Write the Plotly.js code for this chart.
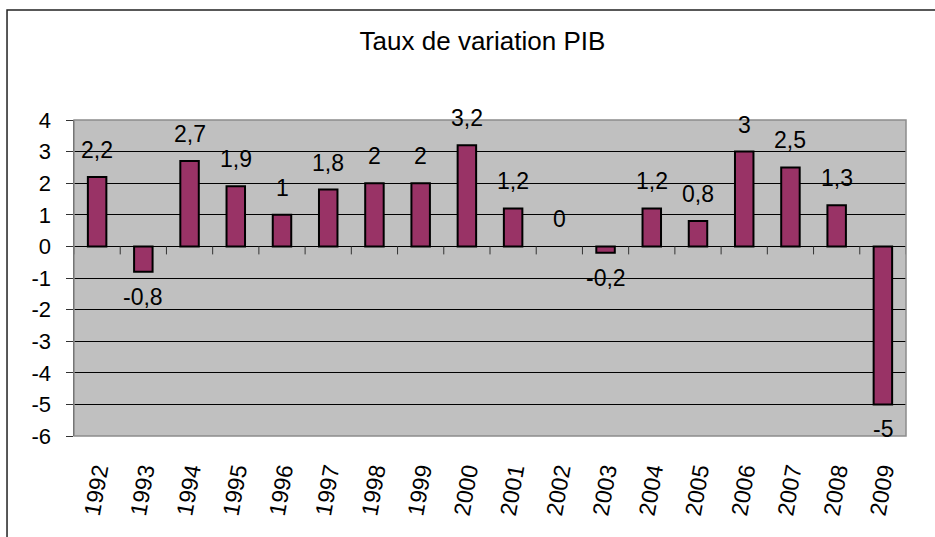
<!DOCTYPE html>
<html>
<head>
<meta charset="utf-8">
<script src="https://cdn.plot.ly/plotly-3.0.1.min.js"></script>
<style>
  html, body { margin: 0; padding: 0; background: #fff; }
  #chart { width: 935px; height: 537px; }
</style>
</head>
<body>
<div id="chart"></div>
<script>
// Taux de variation du PIB, par année
const years = ['1992', '1993', '1994', '1995', '1996', '1997', '1998', '1999', '2000',
               '2001', '2002', '2003', '2004', '2005', '2006', '2007', '2008', '2009'];
const growth = [2.2, -0.8, 2.7, 1.9, 1, 1.8, 2, 2, 3.2, 1.2, 0, -0.2, 1.2, 0.8, 3, 2.5, 1.3, -5];
const yTicks = [-6, -5, -4, -3, -2, -1, 0, 1, 2, 3, 4];

const fontFam = 'Liberation Sans, Arial, sans-serif';

// positions on a plain linear axis, years go in as tick text
const idx = years.map((_, i) => i);

// french decimal comma for the labels
function frNum(v) {
    return String(v).replace('.', ',');
}

const barTrace = {
    type: 'bar',
    x: idx,
    y: growth,
    width: 0.4,
    marker: {
        color: '#993366',
        // no outline on an empty (zero) bar
        line: { color: '#000', width: growth.map(v => v === 0 ? 0 : 2) }
    },
    hoverinfo: 'skip'
};

// value labels above / below each bar
const labels = idx.map(i => {
    const v = growth[i];
    return {
        x: i, y: v, xref: 'x', yref: 'y',
        text: frNum(v),
        showarrow: false,
        yanchor: v >= 0 ? 'bottom' : 'top',
        yshift: v >= 0 ? 12 : -10,
        font: { family: fontFam, size: 23, color: '#000' }
    };
});

// small tick marks on the zero line between categories
const zeroTicks = [];
for (let i = 0; i <= years.length; i++) {
    zeroTicks.push({
        type: 'line', xref: 'x', yref: 'y',
        x0: i - 0.5, x1: i - 0.5,
        ysizemode: 'pixel', yanchor: 0, y0: 0, y1: -8,
        line: { color: '#333', width: 1 }
    });
}

const shapes = zeroTicks.concat([
    // plot area border
    { type: 'rect', xref: 'paper', yref: 'paper', x0: 0, x1: 1, y0: 0, y1: 1,
      line: { color: '#8c8c8c', width: 1.5 }, layer: 'above' },
    // outer chart frame (partly off screen)
    { type: 'rect', xref: 'paper', yref: 'paper', x0: -0.0805, x1: 1.2, y0: -0.6, y1: 1.348,
      line: { color: '#222', width: 1.5 } }
]);

const layout = {
    width: 935,
    height: 537,
    margin: { l: 74, r: 29, t: 120, b: 101 },
    paper_bgcolor: '#fff',
    plot_bgcolor: '#c0c0c0',
    showlegend: false,
    hovermode: false,
    font: { family: fontFam, color: '#000' },
    title: {
        text: 'Taux de variation PIB',
        font: { family: fontFam, size: 26, color: '#000' },
        x: 0.516, xanchor: 'center',
        y: 0.924, yanchor: 'middle'
    },
    xaxis: {
        range: [-0.5, years.length - 0.5],
        tickvals: idx,
        ticktext: years,
        tickangle: -80,
        ticks: '',
        ticklabelstandoff: 16,
        showgrid: false,
        showline: false,
        zeroline: false,
        tickfont: { family: fontFam, size: 23, color: '#000' },
        fixedrange: true
    },
    yaxis: {
        range: [-6, 4],
        tickvals: yTicks,
        ticktext: yTicks.map(String),
        ticks: 'outside',
        ticklen: 7,
        tickcolor: '#333',
        ticklabelstandoff: 10,
        showline: true,
        linecolor: '#333',
        linewidth: 1.5,
        showgrid: true,
        gridcolor: '#000',
        gridwidth: 1,
        zeroline: true,
        zerolinecolor: '#000',
        zerolinewidth: 1,
        tickfont: { family: fontFam, size: 22, color: '#000' },
        fixedrange: true
    },
    shapes: shapes,
    annotations: labels
};

Plotly.newPlot('chart', [barTrace], layout, { displayModeBar: false, staticPlot: true });
</script>
</body>
</html>
